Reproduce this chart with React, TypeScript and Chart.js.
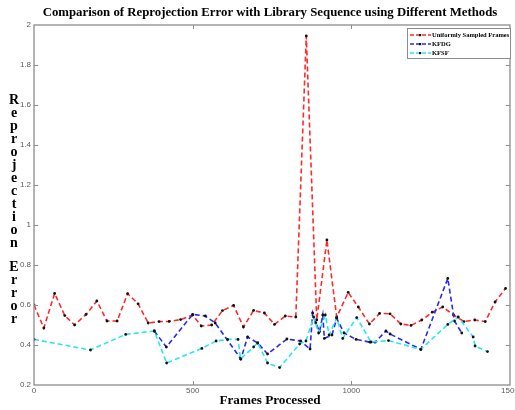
import { useEffect, useRef } from 'react';
import { Chart, registerables } from 'chart.js';

Chart.register(...registerables);

const TITLE = 'Comparison of Reprojection Error with Library Sequence using Different Methods';
const X_TITLE = 'Frames Processed';
const Y_TITLE = 'Reprojection Error';
const SERIES_NAMES = ['Uniformly Sampled Frames', 'KFDG', 'KFSF'];
const SERIES_COLORS = ['#ff2a2a', '#2a2aee', '#2ae6ee'];

const X_TICKS = [0, 500, 1000, 1500];
const Y_TICKS = [0.2, 0.4, 0.6, 0.8, 1, 1.2, 1.4, 1.6, 1.8, 2];

const uniformX = [0, 31, 65, 97, 128, 164, 198, 230, 262, 295, 328, 360, 394, 426, 462, 500, 527, 560, 594, 629, 660, 692, 726, 758, 792, 825, 858, 891, 923, 954, 990, 1022, 1057, 1089, 1122, 1156, 1188, 1222, 1255, 1288, 1322, 1355, 1389, 1422, 1453, 1486];
const uniformY = [0.6, 0.485, 0.658, 0.547, 0.5, 0.553, 0.62, 0.52, 0.52, 0.657, 0.606, 0.51, 0.517, 0.518, 0.527, 0.55, 0.495, 0.5, 0.572, 0.598, 0.49, 0.573, 0.56, 0.503, 0.545, 0.54, 1.945, 0.525, 0.925, 0.54, 0.663, 0.59, 0.505, 0.558, 0.556, 0.505, 0.498, 0.525, 0.564, 0.59, 0.55, 0.517, 0.525, 0.517, 0.615, 0.683];

const kfdgX = [379, 417, 500, 540, 571, 652, 673, 705, 736, 797, 840, 870, 878, 888, 900, 910, 915, 939, 954, 977, 1015, 1059, 1075, 1109, 1122, 1219, 1304, 1325, 1348];
const kfdgY = [0.47, 0.39, 0.553, 0.545, 0.51, 0.33, 0.44, 0.41, 0.355, 0.43, 0.42, 0.38, 0.56, 0.51, 0.467, 0.55, 0.433, 0.45, 0.533, 0.46, 0.428, 0.414, 0.414, 0.47, 0.455, 0.378, 0.733, 0.52, 0.46];

const kfsfX = [0, 178, 289, 379, 418, 529, 574, 610, 643, 651, 692, 705, 736, 774, 837, 857, 881, 897, 918, 930, 954, 973, 1017, 1062, 1117, 1219, 1304, 1337, 1384, 1390, 1429];
const kfsfY = [0.428, 0.375, 0.453, 0.47, 0.31, 0.383, 0.42, 0.428, 0.428, 0.33, 0.39, 0.41, 0.31, 0.287, 0.405, 0.42, 0.54, 0.46, 0.55, 0.45, 0.535, 0.433, 0.537, 0.415, 0.422, 0.378, 0.503, 0.54, 0.44, 0.395, 0.367];

const toPoints = (xs: number[], ys: number[]) => xs.map((x, i) => ({ x, y: ys[i] }));

const fmt = (v: number | string) => String(Number(Number(v).toFixed(1)));

const decorations = {
  id: 'decorations',
  afterDraw(chart: any) {
    const { ctx, chartArea } = chart;
    const { left, right, top, bottom } = chartArea;
    const xs = chart.scales.x;
    const ys = chart.scales.y;
    ctx.save();
    // frame
    ctx.strokeStyle = '#8c8c8c';
    ctx.lineWidth = 1.3;
    ctx.setLineDash([]);
    ctx.strokeRect(left, top, right - left, bottom - top);
    // inward ticks
    ctx.lineWidth = 1;
    ctx.beginPath();
    X_TICKS.slice(1, -1).forEach((v) => {
      const px = Math.round(xs.getPixelForValue(v)) + 0.5;
      ctx.moveTo(px, bottom);
      ctx.lineTo(px, bottom - 4);
      ctx.moveTo(px, top);
      ctx.lineTo(px, top + 4);
    });
    Y_TICKS.slice(1, -1).forEach((v) => {
      const py = Math.round(ys.getPixelForValue(v)) + 0.5;
      ctx.moveTo(left, py);
      ctx.lineTo(left + 4, py);
      ctx.moveTo(right, py);
      ctx.lineTo(right - 4, py);
    });
    ctx.stroke();

    // legend
    const bx = 407, by = 28, bw = right - 407, bh = 30;
    ctx.fillStyle = '#ffffff';
    ctx.fillRect(bx, by, bw, bh);
    ctx.strokeStyle = '#8c8c8c';
    ctx.lineWidth = 1;
    ctx.strokeRect(bx + 0.5, by + 0.5, bw, bh);
    chart.data.datasets.forEach((ds: any, i: number) => {
      const yy = by + 7 + i * 9;
      ctx.strokeStyle = ds.borderColor;
      ctx.lineWidth = 1.5;
      ctx.setLineDash([4, 2]);
      ctx.beginPath();
      ctx.moveTo(410, yy);
      ctx.lineTo(431, yy);
      ctx.stroke();
      ctx.setLineDash([]);
      ctx.fillStyle = '#111';
      ctx.fillRect(419, yy - 1, 2.2, 2.2);
      ctx.fillStyle = '#000';
      ctx.font = 'bold 6.5px "Liberation Serif"';
      ctx.textBaseline = 'middle';
      ctx.textAlign = 'left';
      ctx.fillText(ds.label, 432, yy + 0.5);
    });

    // titles
    ctx.fillStyle = '#000';
    ctx.textAlign = 'center';
    ctx.textBaseline = 'middle';
    ctx.font = 'bold 12.8px "Liberation Serif"';
    ctx.fillText(TITLE, 270, 13);
    ctx.font = 'bold 13.2px "Liberation Serif"';
    ctx.fillText(X_TITLE, 270, 401);
    ctx.font = 'bold 14px "Liberation Serif"';
    let yy = 100;
    for (const ch of Y_TITLE) {
      if (ch === ' ') {
        yy += 11;
        continue;
      }
      ctx.fillText(ch, 14, yy);
      yy += 13;
    }
    ctx.restore();
  },
};

export default function App() {
  const ref = useRef<HTMLCanvasElement>(null);
  useEffect(() => {
    document.body.style.margin = '0';
    const series = [toPoints(uniformX, uniformY), toPoints(kfdgX, kfdgY), toPoints(kfsfX, kfsfY)];
    const chart = new Chart(ref.current as HTMLCanvasElement, {
      type: 'scatter',
      data: {
        datasets: series.map((data, i) => ({
          label: SERIES_NAMES[i],
          data,
          showLine: true,
          borderColor: SERIES_COLORS[i],
          backgroundColor: SERIES_COLORS[i],
          borderWidth: 1.6,
          borderDash: [5, 3],
          pointRadius: 1.4,
          pointBorderWidth: 0,
          pointBackgroundColor: '#111',
          order: 3 - i,
        })),
      },
      options: {
        responsive: false,
        animation: false,
        layout: { padding: { top: 25, right: 5, left: 0, bottom: 0 } },
        plugins: { legend: { display: false }, title: { display: false }, tooltip: { enabled: false } },
        scales: {
          x: {
            type: 'linear',
            min: 0,
            max: 1500,
            afterBuildTicks: (s: any) => {
              s.ticks = X_TICKS.map((value) => ({ value }));
            },
            ticks: {
              callback: (v: any) => fmt(v),
              font: { size: 8, family: '"Liberation Sans"' },
              color: '#5a5a5a',
              padding: 1,
              maxRotation: 0,
              autoSkip: false,
            },
            grid: { display: false, drawTicks: false },
            border: { display: false },
            afterFit: (s: any) => {
              s.height = 25;
              s.paddingLeft = 0;
              s.paddingRight = 0;
            },
          },
          y: {
            type: 'linear',
            min: 0.2,
            max: 2,
            afterBuildTicks: (s: any) => {
              s.ticks = Y_TICKS.map((value) => ({ value }));
            },
            ticks: {
              callback: (v: any) => fmt(v),
              font: { size: 8, family: '"Liberation Sans"' },
              color: '#5a5a5a',
              padding: 3,
              autoSkip: false,
            },
            grid: { display: false, drawTicks: false },
            border: { display: false },
            afterFit: (s: any) => {
              s.width = 34;
              s.paddingTop = 0;
              s.paddingBottom = 0;
            },
          },
        },
      },
      plugins: [decorations],
    });
    return () => chart.destroy();
  }, []);
  return (
    <div style={{ position: 'absolute', left: 0, top: 0, width: 515, height: 410, background: '#fff' }}>
      <canvas ref={ref} width={515} height={410} />
    </div>
  );
}
